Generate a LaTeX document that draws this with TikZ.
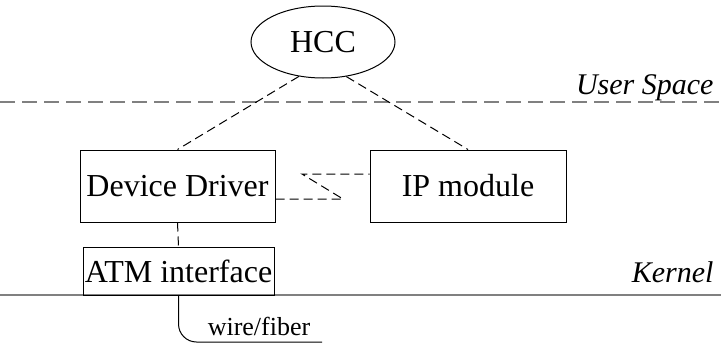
\documentclass[tikz,border=0pt]{standalone}
\usepackage{fontspec}
\setmainfont{Liberation Serif}
\usetikzlibrary{shapes.geometric}

\tikzset{
  box/.style={draw, line width=1pt, inner sep=0pt},
  link/.style={dashed, line width=1pt, dash pattern=on 9pt off 5pt},
  layer/.style={gray, line width=1.2pt},
}

\begin{document}
\begin{tikzpicture}[x=1pt, y=-1pt, font=\fontsize{32}{38}\selectfont]
\useasboundingbox (0,0) rectangle (721,343);

% the manager
\node [draw, ellipse, line width=1pt, minimum width=144pt, minimum height=72pt, inner sep=0pt] (hcc) at (323,42) {HCC};

% user space / kernel borders
\draw [layer, dash pattern=on 15pt off 7pt] (0,102) -- (721,102);
\node [left, font=\fontsize{30}{36}\selectfont\itshape] (user) at (717,88) {User Space};
\draw [layer] (0,295) -- (721,295);
\node [left, font=\fontsize{30}{36}\selectfont\itshape] (kern) at (717,272) {Kernel};

% the boxes
\node [box, minimum width=195pt, minimum height=72pt] (dd) at (177.5,186) {Device Driver};
\node [box, minimum width=196pt, minimum height=72pt] (ip) at (468,186) {IP module};
\node [box, minimum width=191pt, minimum height=48pt] (atm) at (178.5,271) {ATM interface};

\draw [link] (hcc.235) -- (dd.north);
\draw [link] (hcc.304) -- (ip.north);
\draw [link] (dd.east |- 0,199) -- (343,199) -- (302,174) -- (ip.west |- 0,174);
\draw [link] (dd.south) -- (atm.north);

% the line out
\coordinate (wire) at (322,342);
\draw [line width=1pt, rounded corners=18pt] (atm.south) |- (wire);
\node [font=\fontsize{26}{30}\selectfont] (fiber) at (259,326) {wire/fiber};

\end{tikzpicture}
\end{document}
